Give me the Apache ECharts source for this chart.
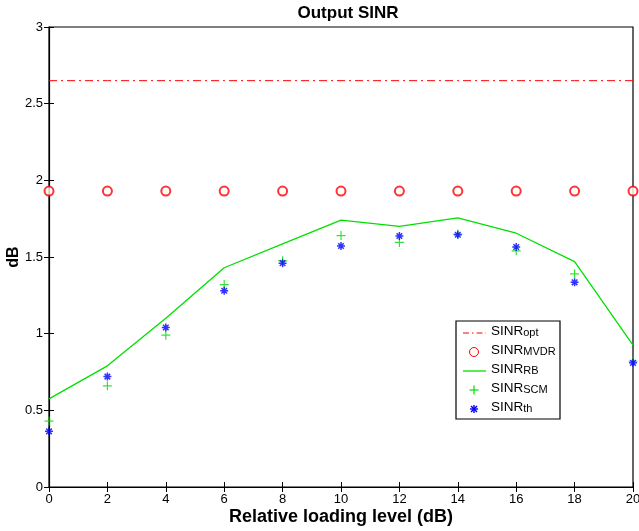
<!DOCTYPE html>
<html><head><meta charset="utf-8">
<script src="https://cdn.jsdelivr.net/npm/echarts@6/dist/echarts.min.js"></script>
<style>html,body{margin:0;padding:0;background:#fff}#c{width:639px;height:531px}</style>
</head><body><div id="c"></div>
<script>
const xLevels = [0,2,4,6,8,10,12,14,16,18,20];
const sinrOpt = [2.65,2.65,2.65,2.65,2.65,2.65,2.65,2.65,2.65,2.65,2.65];
const sinrMvdr = [1.93,1.93,1.93,1.93,1.93,1.93,1.93,1.93,1.93,1.93,1.93];
const sinrRb = [0.575,0.79,1.10,1.43,1.585,1.74,1.70,1.755,1.655,1.47,0.925];
const sinrScm = [0.43,0.66,0.99,1.32,1.475,1.64,1.595,1.65,1.54,1.39,0.82];
const sinrTh = [0.363,0.72,1.04,1.28,1.46,1.572,1.637,1.645,1.565,1.335,0.81];
const xTicks = [0,2,4,6,8,10,12,14,16,18,20];
const yTicks = [0,0.5,1,1.5,2,2.5,3];
const legendNames = ['opt','MVDR','RB','SCM','th'];

const pair = a => xLevels.map((x,i)=>[x,a[i]]);
const F = 'Liberation Sans, Arial, Helvetica, sans-serif';
const plusPath = 'path://M5,0L5,10M0,5L10,5';
const starPath = 'path://M5,0L5,10M0,5L10,5M1.5,1.5L8.5,8.5M8.5,1.5L1.5,8.5';
const RED='#ff0000', GREEN='#00e000', BLUE='#0000ff';

// legend drawn as graphic
const LX=456, LY=321, LW=104, LH=98, ROW=19, ICX=474, TX=491, Y0=333;
const lg = [{type:'rect',shape:{x:LX,y:LY,width:LW,height:LH},style:{fill:'#fff',stroke:'#000',lineWidth:1.2},z:100}];
const icons = [
  i=>({type:'line',shape:{x1:463,y1:Y0+i*ROW,x2:486,y2:Y0+i*ROW},style:{stroke:RED,lineWidth:1,lineDash:[6,3,1.5,3]},z:101}),
  i=>({type:'circle',shape:{cx:ICX,cy:Y0+i*ROW,r:4.5},style:{fill:null,stroke:RED,lineWidth:1},z:101}),
  i=>({type:'line',shape:{x1:463,y1:Y0+i*ROW,x2:486,y2:Y0+i*ROW},style:{stroke:GREEN,lineWidth:1.3},z:101}),
  i=>({type:'group',z:101,children:[
      {type:'line',shape:{x1:ICX-4.5,y1:Y0+i*ROW,x2:ICX+4.5,y2:Y0+i*ROW},style:{stroke:GREEN,lineWidth:1.2},z:101},
      {type:'line',shape:{x1:ICX,y1:Y0+i*ROW-4.5,x2:ICX,y2:Y0+i*ROW+4.5},style:{stroke:GREEN,lineWidth:1.2},z:101}]}),
  i=>({type:'group',z:101,children:[
      {type:'line',shape:{x1:ICX-4,y1:Y0+i*ROW,x2:ICX+4,y2:Y0+i*ROW},style:{stroke:BLUE,lineWidth:1.4},z:101},
      {type:'line',shape:{x1:ICX,y1:Y0+i*ROW-4,x2:ICX,y2:Y0+i*ROW+4},style:{stroke:BLUE,lineWidth:1.4},z:101},
      {type:'line',shape:{x1:ICX-3,y1:Y0+i*ROW-3,x2:ICX+3,y2:Y0+i*ROW+3},style:{stroke:BLUE,lineWidth:1.4},z:101},
      {type:'line',shape:{x1:ICX+3,y1:Y0+i*ROW-3,x2:ICX-3,y2:Y0+i*ROW+3},style:{stroke:BLUE,lineWidth:1.4},z:101}]})
];
legendNames.forEach((n,i)=>{
  lg.push(icons[i](i));
  lg.push({type:'text',x:TX,y:Y0+i*ROW-10,z:101,style:{text:'{a|SINR}{b|'+n+'}',fill:'#000',
    rich:{a:{fontSize:13.5,fontFamily:F,fill:'#000',verticalAlign:'bottom',lineHeight:15},
          b:{fontSize:11,fontFamily:F,fill:'#000',verticalAlign:'bottom',padding:[9,0,0,0],lineHeight:11}}}});
});

const chart = echarts.init(document.getElementById('c'));
chart.setOption({
  animation:false,
  backgroundColor:'#fff',
  title:{text:'Output SINR',left:343,top:0,textAlign:'center',textStyle:{fontFamily:F,fontSize:17,fontWeight:'bold',color:'#000'}},
  grid:{left:49,right:6,top:27,bottom:44,show:true,borderColor:'#000',borderWidth:1.2,backgroundColor:'#fff',outerBoundsMode:'none',containLabel:false},
  xAxis:[{type:'value',min:0,max:20,interval:2,
    name:'Relative loading level (dB)',nameLocation:'middle',nameGap:21,nameMoveOverlap:false,
    nameTextStyle:{fontFamily:F,fontSize:18,fontWeight:'bold',color:'#000'},
    axisLine:{lineStyle:{color:'#000',width:1.2}},axisTick:{inside:true,length:5,lineStyle:{color:'#000'}},
    axisLabel:{fontFamily:F,fontSize:13,color:'#000',margin:6,formatter:v=>xTicks.includes(v)?String(v):''},
    splitLine:{show:false}},
   {type:'value',position:'top',min:0,max:20,interval:2,axisLine:{show:false},
    axisTick:{inside:true,length:5,lineStyle:{color:'#000'}},axisLabel:{show:false},splitLine:{show:false}}],
  yAxis:[{type:'value',min:0,max:3,interval:0.5,
    name:'dB',nameLocation:'middle',nameGap:27,nameMoveOverlap:false,
    nameTextStyle:{fontFamily:F,fontSize:16,fontWeight:'bold',color:'#000'},
    axisLine:{show:true,lineStyle:{color:'#000',width:1.2}},axisTick:{show:true,inside:true,length:5,lineStyle:{color:'#000'}},
    axisLabel:{fontFamily:F,fontSize:13,color:'#000',margin:6,formatter:v=>yTicks.includes(v)?String(v):''},
    splitLine:{show:false}},
   {type:'value',position:'right',min:0,max:3,interval:0.5,axisLine:{show:false},
    axisTick:{show:true,inside:true,length:5,lineStyle:{color:'#000'}},axisLabel:{show:false},splitLine:{show:false}}],
  graphic:lg,
  series:[
    {name:'opt',type:'line',data:pair(sinrOpt),showSymbol:false,symbol:'none',
      lineStyle:{color:RED,width:1,type:[8,4,2,4]},itemStyle:{color:RED}},
    {name:'MVDR',type:'scatter',data:pair(sinrMvdr),symbol:'emptyCircle',symbolSize:9,
      itemStyle:{color:RED,borderColor:RED,borderWidth:1}},
    {name:'RB',type:'line',data:pair(sinrRb),showSymbol:false,symbol:'none',
      lineStyle:{color:GREEN,width:1.3},itemStyle:{color:GREEN}},
    {name:'SCM',type:'scatter',data:pair(sinrScm),symbol:plusPath,symbolSize:9,
      itemStyle:{color:'none',borderColor:'#00dd00',borderWidth:1.2}},
    {name:'th',type:'scatter',data:pair(sinrTh),symbol:starPath,symbolSize:8,
      itemStyle:{color:'none',borderColor:BLUE,borderWidth:1.5}}
  ]
});
</script></body></html>
